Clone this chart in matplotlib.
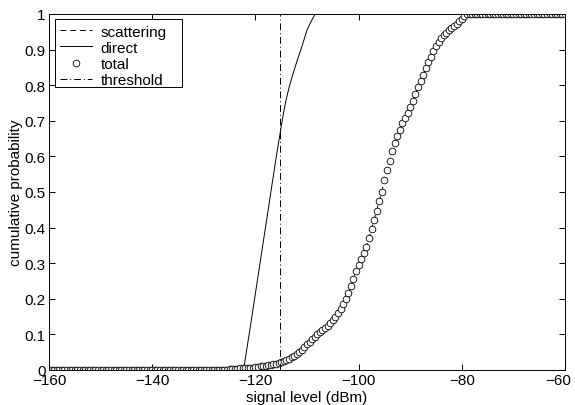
import numpy as np
import matplotlib
matplotlib.use("Agg")
import matplotlib.pyplot as plt
from matplotlib.patches import Rectangle
from matplotlib.transforms import ScaledTranslation

plt.rcParams["font.family"] = ["Liberation Sans", "DejaVu Sans"]

# signal level grid for the simulated distributions (dBm)
level = np.arange(-160.0, -59.75, 0.5)

# cumulative probability of the total received signal
total_low = [0.0] * 70  # -160 ... -125.5 dBm
total_mid = [
    0.003, 0.003, 0.004, 0.004, 0.005, 0.005, 0.006, 0.006, 0.007, 0.007,
    0.008, 0.009, 0.010, 0.011, 0.012, 0.013, 0.015, 0.016, 0.018, 0.020,
    0.022, 0.025, 0.028, 0.032, 0.036, 0.040, 0.045, 0.051, 0.057, 0.064,
    0.072, 0.080, 0.087, 0.094, 0.100, 0.106, 0.112, 0.118, 0.125, 0.133,
    0.141, 0.150, 0.160, 0.172, 0.185, 0.200, 0.215, 0.235, 0.257, 0.278,
    0.295, 0.312, 0.330, 0.346, 0.370, 0.396, 0.422, 0.448, 0.475, 0.500,
    0.535, 0.562, 0.588, 0.615, 0.637, 0.658, 0.675, 0.693, 0.708, 0.722,
    0.738, 0.757, 0.776, 0.794, 0.812, 0.830, 0.848, 0.864, 0.880, 0.896,
    0.910, 0.922, 0.932, 0.940, 0.946, 0.954, 0.961, 0.967, 0.973, 0.980,
    0.987, 0.994, 1.000,
]  # -125 ... -79 dBm
total_high = [1.0] * 38  # -78.5 ... -60 dBm
total = total_low + total_mid + total_high

# scattered component (coincides with the total curve)
scattering = list(total)

# direct (line-of-sight) component
direct_level = [-160.0, -122.3, -121.0, -120.0, -119.0, -118.0, -117.0, -116.0,
                -115.0, -114.5, -114.0, -113.5, -113.0, -112.5, -112.0, -111.0,
                -110.0, -109.0, -108.4, -60.0]
direct = [0.0, 0.0, 0.12, 0.215, 0.31, 0.405, 0.5, 0.595,
          0.684, 0.726, 0.762, 0.792, 0.818, 0.842, 0.865, 0.908,
          0.955, 0.985, 1.0, 1.0]

threshold = -115.2

xticks = [-160, -140, -120, -100, -80, -60]
yticks = [0, 0.1, 0.2, 0.3, 0.4, 0.5, 0.6, 0.7, 0.8, 0.9, 1]
ytick_labels = ["0", "0.1", "0.2", "0.3", "0.4", "0.5", "0.6", "0.7", "0.8", "0.9", "1"]

fs = 11

fig = plt.figure(figsize=(5.75, 4.06), dpi=100)
ax = fig.add_axes([49 / 575, 1 - 371 / 406, 516 / 575, 356 / 406])

ax.plot(level, scattering, color="black", linestyle=(0, (6, 4)), linewidth=0.7,
        label="scattering")
ax.plot(direct_level, direct, color="black", linestyle="-", linewidth=0.7,
        label="direct")
ax.plot(level, total, linestyle="none", marker="o", markersize=4.8,
        markerfacecolor="white", markeredgecolor="black", markeredgewidth=0.6,
        label="total")
ax.plot([threshold, threshold], [0, 1], color="black",
        linestyle=(0, (7, 3, 1, 3)), linewidth=0.7, label="threshold")

ax.set_xlim(-160, -60)
ax.set_ylim(0, 1)
ax.set_xticks(xticks)
ax.set_yticks(yticks)
ax.set_yticklabels(ytick_labels)

for side in ax.spines.values():
    side.set_linewidth(0.7)
    side.set_color("black")

ax.tick_params(direction="in", length=4, width=0.7, top=True, right=True,
               labelsize=fs, pad=2.5)
ax.set_xlabel("signal level (dBm)", fontsize=fs, labelpad=1.5)
ax.set_ylabel("cumulative probability", fontsize=fs, labelpad=1)

# keep the right-most tick label inside the figure
last = ax.xaxis.get_majorticklabels()[-1]
last.set_transform(last.get_transform()
                   + ScaledTranslation(-7 / 100, 0, fig.dpi_scale_trans))

# legend box with a wider frame on the right
box = Rectangle((6 / 516, 1 - 73 / 356), 127 / 516, 68 / 356,
                transform=ax.transAxes, facecolor="white", edgecolor="black",
                linewidth=0.7, zorder=4.5)
ax.add_patch(box)
leg = ax.legend(loc="upper left", bbox_to_anchor=(0.0116, 0.983),
                borderaxespad=0, frameon=False, fontsize=fs, handlelength=2.1,
                handletextpad=0.6, labelspacing=0.14, borderpad=0.3)
leg.set_zorder(5)

fig.savefig("out.png", dpi=100)
